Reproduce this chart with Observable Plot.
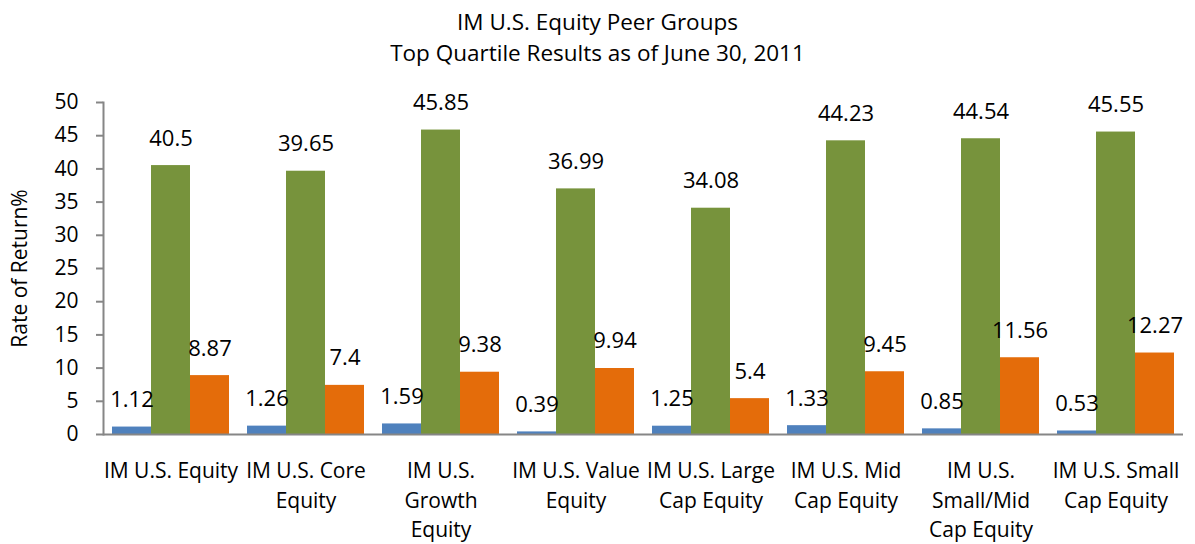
<!DOCTYPE html>
<html>
<head>
<meta charset="utf-8">
<script src="https://cdn.jsdelivr.net/npm/d3@7"></script>
<script src="https://cdn.jsdelivr.net/npm/@observablehq/plot@0.6"></script>
<style>
  html, body { margin: 0; padding: 0; background: #fff; }
  body { width: 1195px; height: 544px; overflow: hidden; font-family: "Open Sans", sans-serif; }
  #title { height: 70px; box-sizing: border-box; padding-top: 6px; text-align: center; font-size: 22.5px; line-height: 31px; color: #000; }
</style>
</head>
<body>
<div id="title">IM U.S. Equity Peer Groups<br>Top Quartile Results as of June 30, 2011</div>
<div id="chart"></div>
<script>
const categories = [
  "IM U.S. Equity", "IM U.S. Core Equity", "IM U.S. Growth Equity", "IM U.S. Value Equity",
  "IM U.S. Large Cap Equity", "IM U.S. Mid Cap Equity", "IM U.S. Small/Mid Cap Equity", "IM U.S. Small Cap Equity"
];
const categoryLabels = [
  "IM U.S. Equity", "IM U.S. Core\nEquity", "IM U.S.\nGrowth\nEquity", "IM U.S. Value\nEquity",
  "IM U.S. Large\nCap Equity", "IM U.S. Mid\nCap Equity", "IM U.S.\nSmall/Mid\nCap Equity", "IM U.S. Small\nCap Equity"
];
const series = ["Quarter", "1 Year", "3 Years"];
const quarter = [1.12, 1.26, 1.59, 0.39, 1.25, 1.33, 0.85, 0.53];
const oneYear = [40.5, 39.65, 45.85, 36.99, 34.08, 44.23, 44.54, 45.55];
const threeYears = [8.87, 7.4, 9.38, 9.94, 5.4, 9.45, 11.56, 12.27];
const colors = ["#4F81BD", "#77933C", "#E46C0A"];
const yTicks = [0, 5, 10, 15, 20, 25, 30, 35, 40, 45, 50];

const seriesValues = [quarter, oneYear, threeYears];
const data = [];
categories.forEach((c, i) => {
  series.forEach((s, j) => data.push({category: c, series: s, value: seriesValues[j][i]}));
});
const labelOf = new Map(categories.map((c, i) => [c, categoryLabels[i]]));

const FONT = "Open Sans";
const chart = Plot.plot({
  width: 1195,
  height: 474,
  marginLeft: 100,
  marginRight: 10,
  marginTop: 32,
  marginBottom: 110,
  style: {fontFamily: FONT, fontSize: "20px", color: "#000", background: "#fff"},
  fx: {domain: categories, padding: 0},
  x: {domain: series, paddingInner: 0, paddingOuter: 0.22, axis: null},
  y: {domain: [0, 50]},
  color: {domain: series, range: colors},
  marks: [
    Plot.barY(data, {fx: "category", x: "series", y: "value", fill: "series"}),
    Plot.text(data, {fx: "category", x: "series", y: "value", text: d => String(d.value),
      lineAnchor: "bottom", dy: -20, fontSize: 22, fill: "#000"}),
    Plot.ruleY([0], {stroke: "#868686", strokeWidth: 2}),
    Plot.frame({anchor: "left", facetAnchor: "left", stroke: "#868686", strokeWidth: 2}),
    Plot.axisY({ticks: yTicks, tickSize: 7, tickPadding: 18, stroke: "#868686", strokeWidth: 2,
      fontSize: 21, fill: "#000", label: "Rate of Return%", labelAnchor: "center", labelArrow: "none", labelOffset: 91}),
    Plot.axisFx({anchor: "bottom", tickSize: 0, tickPadding: 23, fontSize: 21, fill: "#000", lineHeight: 1.4,
      tickFormat: c => labelOf.get(c), label: null})
  ]
});
document.getElementById("chart").appendChild(chart);
</script>
</body>
</html>
